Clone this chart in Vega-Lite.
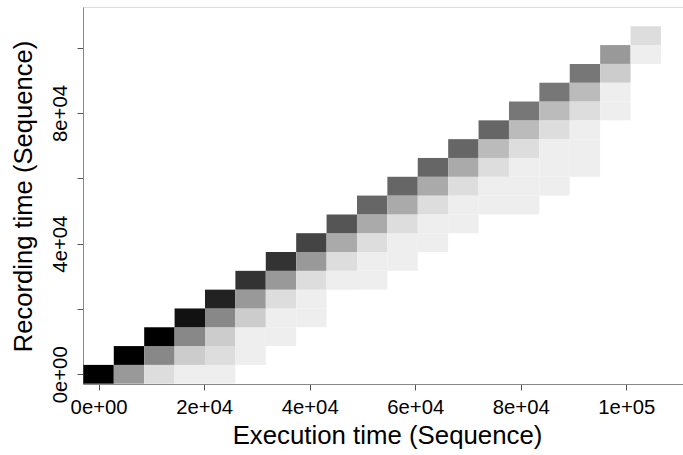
{
  "$schema": "https://vega.github.io/schema/vega-lite/v6.json",
  "width": 600,
  "height": 377,
  "autosize": "none",
  "padding": {"left": 83, "top": 7, "right": 0, "bottom": 71},
  "background": "white",
  "config": {
    "view": {"stroke": "#dddddd", "strokeWidth": 1},
    "font": "Liberation Sans"
  },
  "data": {
    "values": [
      {"e0": -2880, "e1": 2880, "r0": -2880, "r1": 2880, "level": 15},
      {"e0": 2880, "e1": 8640, "r0": -2880, "r1": 2880, "level": 6},
      {"e0": 8640, "e1": 14400, "r0": -2880, "r1": 2880, "level": 2},
      {"e0": 14400, "e1": 20160, "r0": -2880, "r1": 2880, "level": 1},
      {"e0": 20160, "e1": 25920, "r0": -2880, "r1": 2880, "level": 1},

      {"e0": 2880, "e1": 8640, "r0": 2880, "r1": 8640, "level": 15},
      {"e0": 8640, "e1": 14400, "r0": 2880, "r1": 8640, "level": 7},
      {"e0": 14400, "e1": 20160, "r0": 2880, "r1": 8640, "level": 3},
      {"e0": 20160, "e1": 25920, "r0": 2880, "r1": 8640, "level": 2},
      {"e0": 25920, "e1": 31680, "r0": 2880, "r1": 8640, "level": 1},

      {"e0": 8640, "e1": 14400, "r0": 8640, "r1": 14400, "level": 15},
      {"e0": 14400, "e1": 20160, "r0": 8640, "r1": 14400, "level": 7},
      {"e0": 20160, "e1": 25920, "r0": 8640, "r1": 14400, "level": 3},
      {"e0": 25920, "e1": 31680, "r0": 8640, "r1": 14400, "level": 1},
      {"e0": 31680, "e1": 37440, "r0": 8640, "r1": 14400, "level": 1},

      {"e0": 14400, "e1": 20160, "r0": 14400, "r1": 20160, "level": 14},
      {"e0": 20160, "e1": 25920, "r0": 14400, "r1": 20160, "level": 7},
      {"e0": 25920, "e1": 31680, "r0": 14400, "r1": 20160, "level": 3},
      {"e0": 31680, "e1": 37440, "r0": 14400, "r1": 20160, "level": 1},
      {"e0": 37440, "e1": 43200, "r0": 14400, "r1": 20160, "level": 1},

      {"e0": 20160, "e1": 25920, "r0": 20160, "r1": 25920, "level": 13},
      {"e0": 25920, "e1": 31680, "r0": 20160, "r1": 25920, "level": 6},
      {"e0": 31680, "e1": 37440, "r0": 20160, "r1": 25920, "level": 2},
      {"e0": 37440, "e1": 43200, "r0": 20160, "r1": 25920, "level": 1},

      {"e0": 25920, "e1": 31680, "r0": 25920, "r1": 31680, "level": 12},
      {"e0": 31680, "e1": 37440, "r0": 25920, "r1": 31680, "level": 6},
      {"e0": 37440, "e1": 43200, "r0": 25920, "r1": 31680, "level": 2},
      {"e0": 43200, "e1": 48960, "r0": 25920, "r1": 31680, "level": 1},
      {"e0": 48960, "e1": 54720, "r0": 25920, "r1": 31680, "level": 1},

      {"e0": 31680, "e1": 37440, "r0": 31680, "r1": 37440, "level": 12},
      {"e0": 37440, "e1": 43200, "r0": 31680, "r1": 37440, "level": 6},
      {"e0": 43200, "e1": 48960, "r0": 31680, "r1": 37440, "level": 2},
      {"e0": 48960, "e1": 54720, "r0": 31680, "r1": 37440, "level": 1},
      {"e0": 54720, "e1": 60480, "r0": 31680, "r1": 37440, "level": 1},

      {"e0": 37440, "e1": 43200, "r0": 37440, "r1": 43200, "level": 11},
      {"e0": 43200, "e1": 48960, "r0": 37440, "r1": 43200, "level": 5},
      {"e0": 48960, "e1": 54720, "r0": 37440, "r1": 43200, "level": 2},
      {"e0": 54720, "e1": 60480, "r0": 37440, "r1": 43200, "level": 1},
      {"e0": 60480, "e1": 66240, "r0": 37440, "r1": 43200, "level": 1},

      {"e0": 43200, "e1": 48960, "r0": 43200, "r1": 48960, "level": 10},
      {"e0": 48960, "e1": 54720, "r0": 43200, "r1": 48960, "level": 5},
      {"e0": 54720, "e1": 60480, "r0": 43200, "r1": 48960, "level": 2},
      {"e0": 60480, "e1": 66240, "r0": 43200, "r1": 48960, "level": 1},
      {"e0": 66240, "e1": 72000, "r0": 43200, "r1": 48960, "level": 1},

      {"e0": 48960, "e1": 54720, "r0": 48960, "r1": 54720, "level": 9},
      {"e0": 54720, "e1": 60480, "r0": 48960, "r1": 54720, "level": 5},
      {"e0": 60480, "e1": 66240, "r0": 48960, "r1": 54720, "level": 2},
      {"e0": 66240, "e1": 72000, "r0": 48960, "r1": 54720, "level": 1},
      {"e0": 72000, "e1": 77760, "r0": 48960, "r1": 54720, "level": 1},
      {"e0": 77760, "e1": 83520, "r0": 48960, "r1": 54720, "level": 1},

      {"e0": 54720, "e1": 60480, "r0": 54720, "r1": 60480, "level": 9},
      {"e0": 60480, "e1": 66240, "r0": 54720, "r1": 60480, "level": 5},
      {"e0": 66240, "e1": 72000, "r0": 54720, "r1": 60480, "level": 2},
      {"e0": 72000, "e1": 77760, "r0": 54720, "r1": 60480, "level": 1},
      {"e0": 77760, "e1": 83520, "r0": 54720, "r1": 60480, "level": 1},
      {"e0": 83520, "e1": 89280, "r0": 54720, "r1": 60480, "level": 1},

      {"e0": 60480, "e1": 66240, "r0": 60480, "r1": 66240, "level": 9},
      {"e0": 66240, "e1": 72000, "r0": 60480, "r1": 66240, "level": 5},
      {"e0": 72000, "e1": 77760, "r0": 60480, "r1": 66240, "level": 2},
      {"e0": 77760, "e1": 83520, "r0": 60480, "r1": 66240, "level": 1},
      {"e0": 83520, "e1": 89280, "r0": 60480, "r1": 66240, "level": 1},
      {"e0": 89280, "e1": 95040, "r0": 60480, "r1": 66240, "level": 1},

      {"e0": 66240, "e1": 72000, "r0": 66240, "r1": 72000, "level": 9},
      {"e0": 72000, "e1": 77760, "r0": 66240, "r1": 72000, "level": 4},
      {"e0": 77760, "e1": 83520, "r0": 66240, "r1": 72000, "level": 2},
      {"e0": 83520, "e1": 89280, "r0": 66240, "r1": 72000, "level": 1},
      {"e0": 89280, "e1": 95040, "r0": 66240, "r1": 72000, "level": 1},

      {"e0": 72000, "e1": 77760, "r0": 72000, "r1": 77760, "level": 9},
      {"e0": 77760, "e1": 83520, "r0": 72000, "r1": 77760, "level": 4},
      {"e0": 83520, "e1": 89280, "r0": 72000, "r1": 77760, "level": 2},
      {"e0": 89280, "e1": 95040, "r0": 72000, "r1": 77760, "level": 1},

      {"e0": 77760, "e1": 83520, "r0": 77760, "r1": 83520, "level": 8},
      {"e0": 83520, "e1": 89280, "r0": 77760, "r1": 83520, "level": 4},
      {"e0": 89280, "e1": 95040, "r0": 77760, "r1": 83520, "level": 2},
      {"e0": 95040, "e1": 100800, "r0": 77760, "r1": 83520, "level": 1},

      {"e0": 83520, "e1": 89280, "r0": 83520, "r1": 89280, "level": 8},
      {"e0": 89280, "e1": 95040, "r0": 83520, "r1": 89280, "level": 4},
      {"e0": 95040, "e1": 100800, "r0": 83520, "r1": 89280, "level": 1},

      {"e0": 89280, "e1": 95040, "r0": 89280, "r1": 95040, "level": 8},
      {"e0": 95040, "e1": 100800, "r0": 89280, "r1": 95040, "level": 3},

      {"e0": 95040, "e1": 100800, "r0": 95040, "r1": 100800, "level": 6},
      {"e0": 100800, "e1": 106560, "r0": 95040, "r1": 100800, "level": 1},

      {"e0": 100800, "e1": 106560, "r0": 100800, "r1": 106560, "level": 2}
    ]
  },
  "mark": {"type": "rect", "strokeWidth": 0},
  "encoding": {
    "x": {
      "field": "e0",
      "type": "quantitative",
      "scale": {"domain": [-2955, 110740], "nice": false, "zero": false},
      "axis": {
        "title": "Execution time (Sequence)",
        "values": [0, 20000, 40000, 60000, 80000, 100000],
        "labelExpr": "datum.value == 0 ? '0e+00' : datum.value >= 100000 ? '1e+05' : format(datum.value / 10000, 'd') + 'e+04'",
        "grid": false,
        "domainColor": "#888888",
        "tickColor": "#555555",
        "tickSize": 6,
        "labelFontSize": 20.3,
        "labelColor": "#000000",
        "labelBaseline": "alphabetic",
        "labelPadding": 23,
        "labelFont": "Liberation Sans",
        "titleFont": "Liberation Sans",
        "titleFontSize": 25.8,
        "titleFontWeight": "normal",
        "titleColor": "#000000",
        "titleBaseline": "alphabetic",
        "titleAlign": "center",
        "titleX": 304,
        "titleY": 59
      }
    },
    "x2": {"field": "e1"},
    "y": {
      "field": "r0",
      "type": "quantitative",
      "scale": {"domain": [-2970, 112460], "nice": false, "zero": false},
      "axis": {
        "title": "Recording time (Sequence)",
        "values": [0, 20000, 40000, 60000, 80000, 100000],
        "labelExpr": "datum.value == 0 ? '0e+00' : datum.value == 40000 ? '4e+04' : datum.value == 80000 ? '8e+04' : ''",
        "grid": false,
        "domainColor": "#888888",
        "tickColor": "#555555",
        "tickSize": 6,
        "labelAngle": -90,
        "labelAlign": "center",
        "labelBaseline": "alphabetic",
        "labelPadding": 11,
        "labelFontSize": 20.3,
        "labelColor": "#000000",
        "labelFont": "Liberation Sans",
        "labelOverlap": false,
        "titleFont": "Liberation Sans",
        "titleFontSize": 25.6,
        "titleFontWeight": "normal",
        "titleColor": "#000000",
        "titleAngle": -90,
        "titleBaseline": "alphabetic",
        "titleAlign": "center",
        "titleX": -52,
        "titleY": 189
      }
    },
    "y2": {"field": "r1"},
    "color": {
      "field": "level",
      "type": "quantitative",
      "scale": {"domain": [0, 15], "range": ["#ffffff", "#000000"], "interpolate": "rgb"},
      "legend": null
    }
  }
}
